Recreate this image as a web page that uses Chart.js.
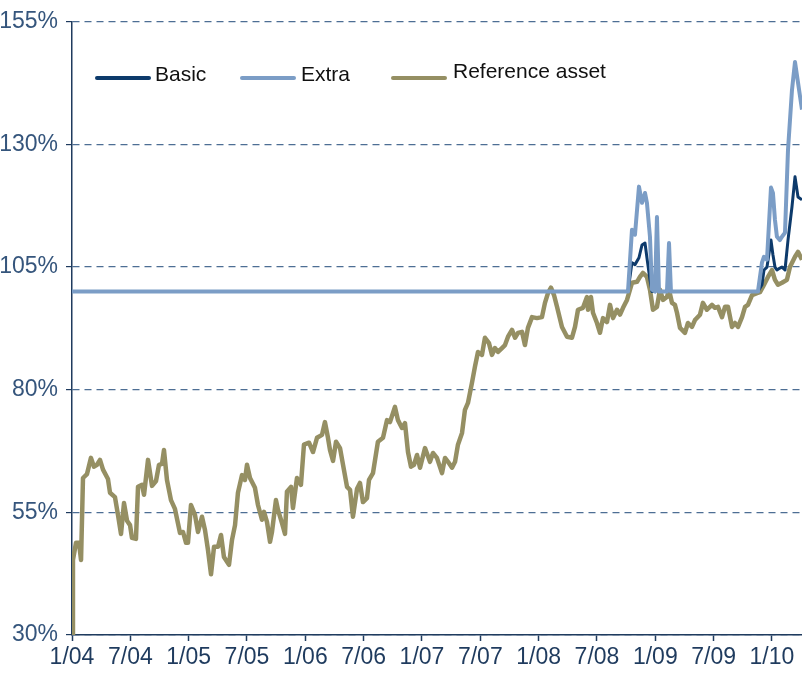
<!DOCTYPE html>
<html lang="en">
<head>
<meta charset="UTF-8">
<title>Basic, Extra and reference asset</title>
<script src="https://cdn.jsdelivr.net/npm/chart.js"></script>
<style>
  html, body { margin: 0; padding: 0; background: #fff; }
  .chart-box { position: relative; width: 802px; height: 675px; }
</style>
</head>
<body>
<div class="chart-box"><canvas id="perfChart"></canvas></div>
<script>
// x = months since 1/04, y = value in %
const tickLabels = ['1/04', '7/04', '1/05', '7/05', '1/06', '7/06', '1/07', '7/07', '1/08', '7/08', '1/09', '7/09', '1/10'];

const refMonths = [
  0, 0.10, 0.41, 0.72, 0.93, 1.13, 1.54, 1.95, 2.26, 2.57,
  2.88, 3.19, 3.70, 3.91, 4.42, 4.73, 5.04, 5.35, 5.66, 5.97,
  6.17, 6.58, 6.79, 7.20, 7.41, 7.82, 8.23, 8.64, 8.95, 9.26,
  9.46, 9.77, 10.18, 10.59, 11.11, 11.42, 11.73, 11.93, 12.24, 12.65,
  12.96, 13.37, 13.68, 13.99, 14.30, 14.61, 15.02, 15.33, 15.63, 16.15,
  16.46, 16.77, 17.07, 17.49, 17.79, 18.00, 18.31, 18.82, 19.13, 19.54,
  19.75, 20.06, 20.37, 20.57, 20.98, 21.19, 21.60, 21.91, 22.11, 22.53,
  22.73, 23.14, 23.55, 23.86, 24.38, 24.79, 25.20, 25.72, 26.02, 26.33,
  26.54, 26.85, 27.16, 27.57, 27.88, 28.29, 28.60, 28.90, 29.32, 29.62,
  29.93, 30.34, 30.55, 30.96, 31.47, 31.99, 32.40, 32.71, 33.22, 33.53,
  33.94, 34.25, 34.56, 34.87, 35.18, 35.49, 35.80, 36.31, 36.82, 37.13,
  37.54, 38.06, 38.37, 38.68, 39.09, 39.40, 39.70, 40.12, 40.42, 40.73,
  41.14, 41.45, 41.76, 42.17, 42.48, 42.89, 43.20, 43.51, 43.82, 44.23,
  44.54, 44.85, 45.26, 45.57, 45.88, 46.29, 46.59, 46.90, 47.32, 47.83,
  48.34, 48.65, 48.96, 49.27, 49.58, 49.89, 50.40, 50.92, 51.43, 51.74,
  52.05, 52.56, 52.97, 53.08, 53.38, 53.59, 54.00, 54.31, 54.62, 55.03,
  55.34, 55.65, 56.06, 56.37, 56.68, 57.09, 57.60, 58.12, 58.42, 58.73,
  59.14, 59.45, 59.76, 60.17, 60.48, 60.79, 61.20, 61.41, 61.72, 62.02,
  62.23, 62.54, 62.75, 63.05, 63.36, 63.77, 64.08, 64.60, 64.90, 65.31,
  65.83, 66.14, 66.45, 66.86, 67.17, 67.48, 67.89, 68.20, 68.51, 68.92,
  69.23, 69.53, 69.95, 70.46, 70.77, 71.08, 71.59, 72.00, 72.31, 72.62,
  73.03, 73.54, 73.85, 74.37, 74.68, 75.09
];
const refValues = [
  30, 45.3, 48.8, 48.8, 45.3, 62.0, 62.8, 66.1, 64.3, 64.7,
  65.7, 63.7, 61.8, 59.0, 58.1, 54.5, 50.6, 56.9, 53.3, 52.4,
  49.8, 49.6, 60.2, 60.6, 58.6, 65.7, 60.4, 61.4, 64.7, 64.9,
  67.7, 61.6, 57.5, 55.7, 50.8, 51.0, 48.8, 48.8, 56.5, 54.5,
  51.0, 54.1, 51.4, 47.3, 42.4, 48.0, 48.0, 50.4, 45.9, 44.3,
  49.4, 52.4, 59.0, 62.6, 61.6, 64.7, 62.0, 60.0, 56.5, 53.5,
  55.1, 53.0, 49.0, 51.0, 57.5, 55.5, 52.8, 50.6, 59.2, 60.2,
  55.9, 62.0, 60.6, 68.8, 69.2, 67.3, 70.2, 70.8, 73.4, 70.2,
  67.7, 65.5, 69.4, 68.1, 64.7, 60.2, 59.6, 54.1, 59.8, 61.0,
  57.1, 57.9, 61.6, 63.0, 69.4, 70.2, 73.8, 73.4, 76.5, 73.8,
  72.2, 73.2, 67.3, 64.3, 64.7, 66.7, 64.1, 68.1, 65.3, 67.1,
  66.1, 63.0, 66.1, 65.3, 64.1, 65.3, 68.8, 71.2, 75.9, 77.3,
  81.4, 84.7, 87.7, 87.1, 90.6, 89.5, 87.1, 88.5, 87.7, 88.5,
  89.1, 90.8, 92.2, 90.6, 91.6, 91.8, 89.1, 92.6, 94.8, 94.6,
  94.8, 97.7, 99.7, 100.8, 99.3, 96.9, 92.8, 90.8, 90.6, 92.8,
  96.3, 96.7, 98.9, 96.3, 98.9, 95.7, 93.6, 91.6, 94.6, 93.8,
  97.3, 94.6, 96.3, 95.3, 96.7, 98.3, 101.8, 102.0, 103.0, 103.8,
  103.0, 100.4, 96.3, 96.9, 100.4, 98.3, 98.9, 100.4, 97.7, 97.3,
  95.7, 92.6, 92.2, 91.6, 93.6, 92.8, 94.2, 95.3, 97.7, 96.3,
  97.3, 96.7, 96.9, 94.8, 96.9, 96.9, 92.8, 93.6, 92.8, 94.8,
  96.9, 97.3, 99.3, 99.7, 99.9, 101.0, 103.0, 104.4, 102.4, 101.4,
  101.8, 102.4, 105.0, 107.1, 108.1, 106.5
];

const productMonths = [
  0, 57.19, 57.60, 57.91, 58.32, 58.63, 58.94, 59.14, 59.45, 59.66,
  59.97, 60.17, 60.38, 61.20, 61.41, 61.61, 70.56, 70.97, 71.18, 71.49,
  71.90, 72.10, 72.31, 72.51, 72.82, 73.03, 73.34, 73.65, 74.06, 74.37,
  74.68, 75.09
];
const basicValues = [
  100, 100, 105.9, 105.5, 106.9, 109.5, 109.9, 106.9, 102.4, 100,
  100, 101, 100, 100, 100.5, 100, 100, 101.4, 104.4, 105.0,
  110.5, 107.5, 105.0, 104.4, 104.8, 105.0, 104.4, 110.5, 117.3, 123.4,
  119.3, 118.7
];
const extraValues = [
  100, 100, 112.6, 111.6, 121.4, 118.1, 120.1, 118.1, 111.2, 100.4,
  100, 115.2, 100, 100, 109.9, 100, 100, 105.9, 107.1, 106.5,
  121.2, 120.1, 114.6, 111.2, 110.5, 111.2, 112.0, 128.9, 141.1, 146.8,
  142.6, 137.1
];

function toPoints(xs, ys) {
  return xs.map((m, i) => ({ x: m, y: ys[i] }));
}

const axisNavy = '#1f3b5e';
const labelFont = { family: '"Liberation Sans Narrow", "Arial Narrow", Arial, sans-serif', size: 23 };

// legend drawn inside the plot, upper left
const insideLegend = {
  id: 'insideLegend',
  afterDraw(chart) {
    const ctx = chart.ctx;
    const spots = [
      { lineX: 97, textX: 155, lineY: 78, textY: 75 },
      { lineX: 242, textX: 301, lineY: 78, textY: 75 },
      { lineX: 393, textX: 453, lineY: 78, textY: 72 }
    ];
    ctx.save();
    ctx.font = '21px "Liberation Sans", Arial, sans-serif';
    ctx.textBaseline = 'middle';
    chart.data.datasets.forEach((ds, i) => {
      const s = spots[i];
      ctx.strokeStyle = ds.borderColor;
      ctx.lineWidth = 4;
      ctx.lineCap = 'round';
      ctx.beginPath();
      ctx.moveTo(s.lineX, s.lineY);
      ctx.lineTo(s.lineX + 52, s.lineY);
      ctx.stroke();
      ctx.fillStyle = '#111';
      ctx.fillText(ds.label, s.textX, s.textY);
    });
    ctx.restore();
  }
};

new Chart(document.getElementById('perfChart'), {
  type: 'line',
  data: {
    datasets: [{
      label: 'Basic',
      data: toPoints(productMonths, basicValues),
      borderColor: '#0d3a6b',
      borderWidth: 3,
      order: 1
    }, {
      label: 'Extra',
      data: toPoints(productMonths, extraValues),
      borderColor: '#7b9dc6',
      borderWidth: 4,
      order: 0
    }, {
      label: 'Reference asset',
      data: toPoints(refMonths, refValues),
      borderColor: '#958f63',
      borderWidth: 4.5,
      order: 2
    }]
  },
  options: {
    responsive: true,
    maintainAspectRatio: false,
    animation: false,
    layout: { padding: { top: 10, right: 0, bottom: 0, left: 0 } },
    elements: {
      point: { radius: 0 },
      line: { tension: 0, borderJoinStyle: 'round', fill: false }
    },
    plugins: {
      legend: { display: false },
      tooltip: { enabled: false }
    },
    scales: {
      x: {
        type: 'linear',
        min: 0,
        max: 75.09,
        afterFit(scale) { scale.height = 40; },
        border: { color: axisNavy, width: 1.5 },
        grid: { drawOnChartArea: false, drawTicks: true, tickLength: 6, tickColor: axisNavy, tickWidth: 1.5 },
        ticks: {
          stepSize: 6,
          includeBounds: false,
          autoSkip: false,
          maxRotation: 0,
          padding: 3,
          color: axisNavy,
          font: labelFont,
          callback: v => (v % 6 === 0 ? tickLabels[v / 6] : '')
        }
      },
      y: {
        min: 30,
        max: 155,
        afterFit(scale) { scale.width = 72; },
        border: { color: axisNavy, width: 1.5, dash: [7, 5] },
        grid: {
          color: '#4d6e94',
          lineWidth: 1.2,
          drawTicks: true,
          tickLength: 6,
          tickColor: axisNavy,
          tickBorderDash: []
        },
        ticks: {
          stepSize: 25,
          padding: 8,
          color: '#35557c',
          font: labelFont,
          callback: v => v + '%'
        }
      }
    }
  },
  plugins: [insideLegend]
});
</script>
</body>
</html>
